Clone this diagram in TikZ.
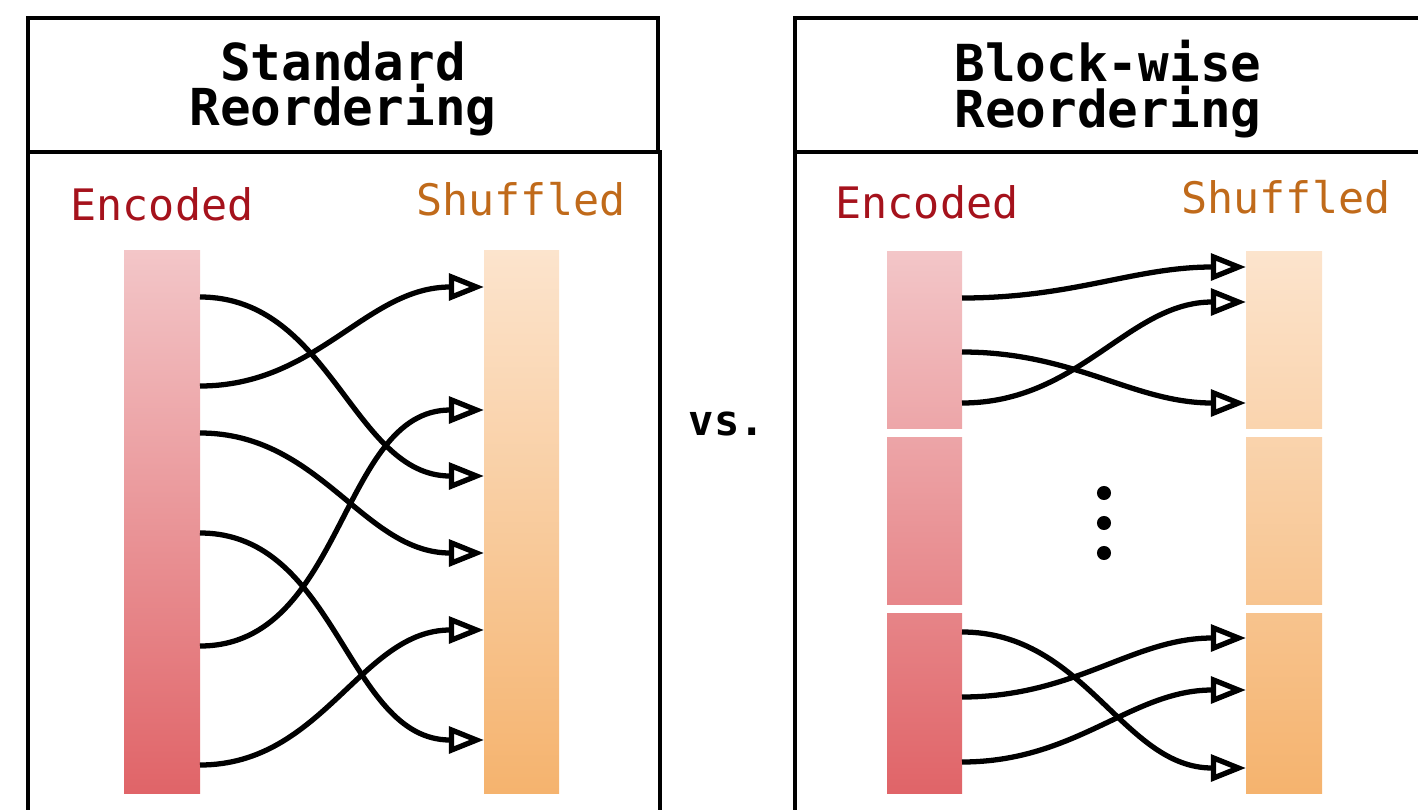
\documentclass[tikz,border=0pt]{standalone}
\usepackage{fontspec}
\newfontfamily\plexmono{DejaVu Sans Mono}
\usetikzlibrary{arrows.meta}

\definecolor{encred}{HTML}{A5121C}
\definecolor{shufbrown}{HTML}{C06A1A}
\definecolor{enctop}{HTML}{F3C6C8}
\definecolor{encbot}{HTML}{E06468}
\definecolor{shuftop}{HTML}{FCE4CD}
\definecolor{shufbot}{HTML}{F5B36E}

\tikzset{
  panel/.style={draw=black, line width=2.5pt},
  heading/.style={font=\plexmono\bfseries\fontsize{29}{26}\selectfont, align=center},
  barlabel/.style={font=\plexmono\fontsize{24.7}{28}\selectfont, anchor=base},
  flow/.style={line width=3pt, -{Triangle[open,length=20pt,width=15pt]}, out=0, in=180},
}

\begin{document}
\begin{tikzpicture}[x=0.02cm, y=-0.02cm]
  \useasboundingbox (0,0) rectangle (1418,809);

  % standard reordering
  \draw[panel] (28,18) rectangle (658,152);
  \draw[panel] (28,152) rectangle (660,830);
  \node[heading] (stdtitle) at (343,89) {Standard\\Reordering};
  \node[barlabel, text=encred] (stdenc) at (162,220) {Encoded};
  \node[barlabel, text=shufbrown] (stdshuf) at (521,215) {Shuffled};
  \shade[top color=enctop, bottom color=encbot] (124,250) rectangle (200,793);
  \shade[top color=shuftop, bottom color=shufbot] (484,250) rectangle (559,793);
  \foreach \n/\y in {1/297, 2/386, 3/433, 4/533, 5/646, 6/765}
    \coordinate (a\n) at (200,\y);
  \foreach \n/\y in {1/287, 2/410, 3/476, 4/553, 5/630, 6/740}
    \coordinate (b\n) at (484,\y);
  \draw[flow] (a1) to (b3);
  \draw[flow] (a2) to (b1);
  \draw[flow] (a3) to (b4);
  \draw[flow] (a4) to (b6);
  \draw[flow] (a5) to (b2);
  \draw[flow] (a6) to (b5);

  \node[font=\plexmono\bfseries\fontsize{24}{24}\selectfont, anchor=base] (vs) at (727,435) {vs.};

  % block-wise reordering
  \draw[panel] (795,18) rectangle (1440,152);
  \draw[panel] (795,152) rectangle (1440,830);
  \node[heading] (blktitle) at (1108,89) {Block-wise\\Reordering};
  \node[barlabel, text=encred] (blkenc) at (927,218) {Encoded};
  \node[barlabel, text=shufbrown] (blkshuf) at (1286,213) {Shuffled};
  \foreach \t/\b/\p/\q in {251/428/0/33, 437/604/34/65, 613/793/67/100} {
    \shade[top color=encbot!\p!enctop, bottom color=encbot!\q!enctop] (887,\t) rectangle (962,\b);
    \shade[top color=shufbot!\p!shuftop, bottom color=shufbot!\q!shuftop] (1246,\t) rectangle (1322,\b);
  }
  \foreach \n/\y in {1/298, 2/352, 3/403, 4/632, 5/697, 6/762}
    \coordinate (c\n) at (962,\y);
  \foreach \n/\y in {1/267, 2/302, 3/403, 4/638, 5/690, 6/768}
    \coordinate (d\n) at (1246,\y);
  \draw[flow] (c1) to (d1);
  \draw[flow] (c2) to (d3);
  \draw[flow] (c3) to (d2);
  \draw[flow] (c4) to (d6);
  \draw[flow] (c5) to (d4);
  \draw[flow] (c6) to (d5);
  \foreach \y in {493,523,553}
    \fill (1104,\y) circle[radius=4pt];
\end{tikzpicture}
\end{document}
